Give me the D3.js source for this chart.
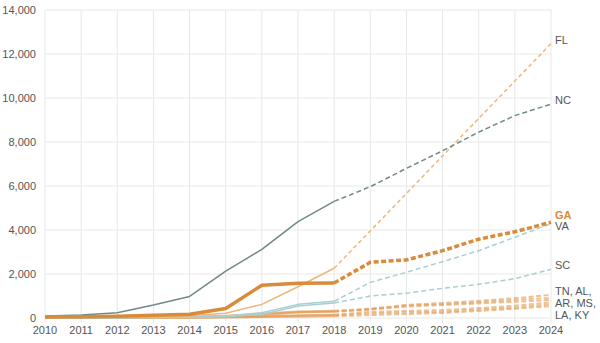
<!DOCTYPE html>
<html>
<head>
<meta charset="utf-8">
<script src="https://cdn.jsdelivr.net/npm/d3@7"></script>
<style>
  body { margin: 0; background: #fff; }
  svg text { font-family: "Liberation Sans", Arial, sans-serif; }
</style>
</head>
<body>
<svg id="chart" width="600" height="343"></svg>
<script>
const years = [2010, 2011, 2012, 2013, 2014, 2015, 2016, 2017, 2018, 2019, 2020, 2021, 2022, 2023, 2024];
const lastActual = 2018;
const yTicks = [0, 2000, 4000, 6000, 8000, 10000, 12000, 14000];

const nc = [90, 135, 240, 590, 980, 2130, 3120, 4380, 5300, 5970, 6800, 7600, 8450, 9200, 9720];
const fl = [20, 30, 40, 60, 100, 220, 620, 1420, 2260, 3960, 5660, 7370, 9070, 10770, 12470];
const ga = [50, 60, 80, 130, 170, 430, 1490, 1580, 1590, 2530, 2640, 3060, 3580, 3920, 4350];
const va = [10, 15, 20, 30, 40, 80, 240, 620, 760, 1620, 2080, 2560, 3060, 3670, 4290];
const sc = [5, 10, 15, 25, 35, 60, 160, 545, 680, 1000, 1130, 1350, 1530, 1790, 2210];
const tn = [30, 35, 40, 50, 60, 100, 200, 290, 330, 420, 600, 680, 780, 900, 1050];
const al = [25, 30, 35, 45, 50, 80, 180, 270, 300, 400, 560, 630, 720, 820, 920];
const ar = [20, 25, 30, 35, 40, 60, 130, 250, 280, 380, 520, 590, 660, 740, 820];
const ms = [10, 15, 20, 25, 25, 40, 80, 120, 150, 280, 320, 360, 450, 560, 710];
const la = [10, 10, 15, 20, 20, 30, 60, 100, 120, 210, 250, 290, 380, 470, 620];
const ky = [5, 5, 10, 10, 10, 20, 40, 60, 80, 130, 180, 230, 320, 420, 540];

const smallStyle = { color: "#e39a52", width: 2, opacity: 0.6, dash: "5 2.5" };
const series = [
  { values: tn, ...smallStyle },
  { values: al, ...smallStyle },
  { values: ar, ...smallStyle },
  { values: ms, ...smallStyle },
  { values: la, ...smallStyle },
  { values: ky, ...smallStyle },
  { values: sc, color: "#a9cfd0", width: 1.5, opacity: 1, dash: "5 3" },
  { values: va, color: "#a9cfd0", width: 1.5, opacity: 1, dash: "5 3" },
  { values: fl, color: "#efb57a", width: 1.5, opacity: 1, dash: "4 3" },
  { values: nc, color: "#6f8a87", width: 1.5, opacity: 1, dash: "5 3" },
  { values: ga, color: "#d98b3a", width: 3.5, opacity: 1, dash: "5 2.5" }
];

const labels = [
  { text: "FL", y: 40, color: "#555", bold: false },
  { text: "NC", y: 100, color: "#555", bold: false },
  { text: "GA", y: 215, color: "#d98b3a", bold: true },
  { text: "VA", y: 226, color: "#555", bold: false },
  { text: "SC", y: 265, color: "#555", bold: false },
  { text: "TN, AL,", y: 291, color: "#555", bold: false },
  { text: "AR, MS,", y: 303, color: "#555", bold: false },
  { text: "LA, KY", y: 315, color: "#555", bold: false }
];

const svg = d3.select("#chart");
const x = d3.scaleLinear().domain([2010, 2024]).range([45, 551]);
const y = d3.scaleLinear().domain([0, 14000]).range([318, 10]);

// grid
svg.append("g").selectAll("line").data(yTicks).join("line")
  .attr("x1", x(2010)).attr("x2", x(2024))
  .attr("y1", d => y(d)).attr("y2", d => y(d))
  .attr("stroke", "#e8e8e8");
svg.append("g").selectAll("line").data(years).join("line")
  .attr("x1", d => x(d)).attr("x2", d => x(d))
  .attr("y1", y(14000)).attr("y2", y(0) + 5)
  .attr("stroke", "#e8e8e8");

// axis labels
svg.append("g").selectAll("text").data(yTicks).join("text")
  .attr("x", 36).attr("y", d => y(d)).attr("dy", "0.35em")
  .attr("text-anchor", "end").attr("font-size", 11).attr("fill", "#555")
  .text(d => d3.format(",")(d));
svg.append("g").selectAll("text").data(years).join("text")
  .attr("x", d => x(d)).attr("y", 334)
  .attr("text-anchor", "middle").attr("font-size", 11).attr("fill", "#555")
  .text(d => d);

const line = d3.line().x(d => x(d.year)).y(d => y(d.value));

series.forEach(s => {
  const pts = years.map((yr, i) => ({ year: yr, value: s.values[i] }));
  const actual = pts.filter(p => p.year <= lastActual);
  const proj = pts.filter(p => p.year >= lastActual);
  svg.append("path").attr("d", line(actual))
    .attr("fill", "none").attr("stroke", s.color)
    .attr("stroke-width", s.width).attr("stroke-opacity", s.opacity)
    .attr("stroke-linejoin", "round");
  svg.append("path").attr("d", line(proj))
    .attr("fill", "none").attr("stroke", s.color)
    .attr("stroke-width", s.width).attr("stroke-opacity", s.opacity)
    .attr("stroke-dasharray", s.dash);
});

svg.append("g").selectAll("text").data(labels).join("text")
  .attr("x", 555).attr("y", d => d.y).attr("dy", "0.35em")
  .attr("font-size", 11).attr("fill", d => d.color)
  .attr("font-weight", d => d.bold ? "bold" : "normal")
  .text(d => d.text);
</script>
</body>
</html>
